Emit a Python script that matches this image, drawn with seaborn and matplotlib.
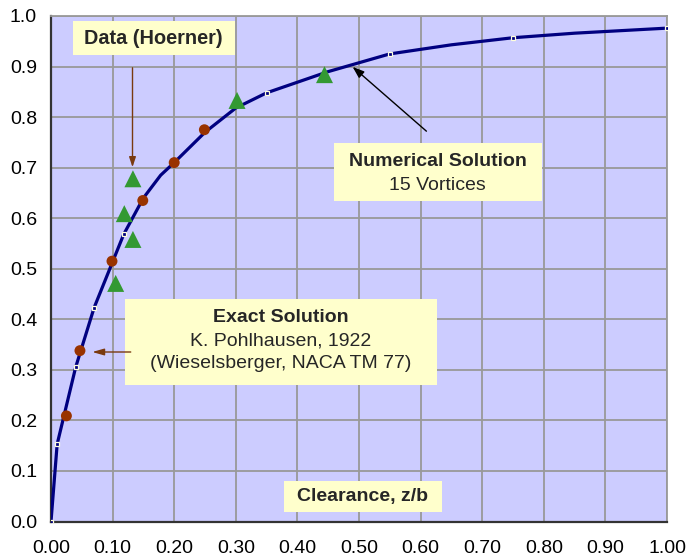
import matplotlib
matplotlib.use("Agg")
import matplotlib.pyplot as plt
import seaborn as sns
import numpy as np

# Numerical solution (15 vortices) curve
curve_x = [0.0, 0.01, 0.04, 0.07, 0.118, 0.15, 0.178, 0.2, 0.25, 0.3, 0.35, 0.45, 0.55, 0.65, 0.75, 0.85, 1.0]
curve_y = [0.0, 0.153, 0.305, 0.423, 0.568, 0.64, 0.685, 0.71, 0.77, 0.818, 0.848, 0.89, 0.925, 0.943, 0.957, 0.966, 0.976]
curve_marked = [0, 1, 2, 3, 4, 10, 12, 14, 16]

# Exact solution (Pohlhausen)
exact_x = [0.025, 0.047, 0.099, 0.149, 0.2, 0.249]
exact_y = [0.209, 0.338, 0.515, 0.635, 0.710, 0.775]

# Data (Hoerner)
data_x = [0.105, 0.119, 0.133, 0.133, 0.302, 0.444]
data_y = [0.471, 0.609, 0.558, 0.678, 0.833, 0.884]

x_ticks = [0.0, 0.1, 0.2, 0.3, 0.4, 0.5, 0.6, 0.7, 0.8, 0.9, 1.0]
x_labels = ["0.00", "0.10", "0.20", "0.30", "0.40", "0.50", "0.60", "0.70", "0.80", "0.90", "1.00"]
y_ticks = [0.0, 0.1, 0.2, 0.3, 0.4, 0.5, 0.6, 0.7, 0.8, 0.9, 1.0]
y_labels = ["0.0", "0.1", "0.2", "0.3", "0.4", "0.5", "0.6", "0.7", "0.8", "0.9", "1.0"]

sns.set_style("white")
plt.rcParams['font.family'] = ['Liberation Sans', 'DejaVu Sans']

fig = plt.figure(figsize=(6.94, 5.58), dpi=100)
ax = fig.add_axes([51 / 694, 36.5 / 558, 616 / 694, 505.5 / 558])
ax.set_facecolor("#CCCCFF")

ax.set_xlim(0, 1.0)
ax.set_ylim(0, 1.0)
ax.set_xticks(x_ticks)
ax.set_xticklabels(x_labels)
ax.set_yticks(y_ticks)
ax.set_yticklabels(y_labels)
ax.tick_params(axis="both", length=0, labelsize=14, colors="black")
ax.tick_params(axis="x", pad=13)
ax.tick_params(axis="y", pad=10)
ax.grid(True, color="#999999", lw=1.3)
ax.set_axisbelow(True)

for s in ["top", "right"]:
    ax.spines[s].set_color("#999999")
    ax.spines[s].set_linewidth(1.3)
for s in ["left", "bottom"]:
    ax.spines[s].set_color("#333333")
    ax.spines[s].set_linewidth(1.6)

sns.lineplot(x=curve_x, y=curve_y, sort=False, estimator=None, ax=ax,
             color="#000080", lw=2.3, marker="s", markevery=curve_marked,
             ms=3.5, mfc="#000080", mec="#FFFFDD", mew=0.9, zorder=3)

sns.scatterplot(x=exact_x, y=exact_y, ax=ax, marker="o", s=62,
                color="#993300", edgecolor="none", zorder=4)
sns.scatterplot(x=data_x, y=data_y, ax=ax, marker="^", s=150,
                color="#339933", edgecolor="none", zorder=4)


def px2data(px, py):
    return ((px - 50.5) / 616.0, (521.5 - py) / 505.5)

# Data (Hoerner) label
ax.add_patch(plt.Rectangle(px2data(72, 55), 162 / 616, 34 / 505.5,
                           fc="#FFFFCC", ec="none", zorder=5))
bx, by = px2data(153, 39)
ax.text(bx, by, "Data (Hoerner)", ha="center", va="center", fontsize=14.3,
        fontweight="bold", zorder=6)
ax.annotate("", xy=px2data(132, 170), xytext=px2data(132, 65),
            arrowprops=dict(arrowstyle="-|>,head_length=0.6,head_width=0.2", color="#7A3A10", lw=1.0),
            zorder=6)

# Numerical solution label
ax.add_patch(plt.Rectangle(px2data(333, 201), 208 / 616, 58 / 505.5,
                           fc="#FFFFCC", ec="none", zorder=5))
tx, ty = px2data(437, 161)
ax.text(tx, ty, "Numerical Solution", ha="center", va="center", fontsize=14,
        fontweight="bold", zorder=6)
tx, ty = px2data(437, 185)
ax.text(tx, ty, "15 Vortices", ha="center", va="center", fontsize=14, zorder=6)
ax.annotate("", xy=px2data(350, 65), xytext=px2data(428, 133),
            arrowprops=dict(arrowstyle="-|>,head_length=0.7,head_width=0.25", color="black", lw=1.0),
            zorder=6)

# Exact solution label
ax.add_patch(plt.Rectangle(px2data(124, 385), 313 / 616, 86 / 505.5,
                           fc="#FFFFCC", ec="none", zorder=5))
tx, ty = px2data(280, 318)
ax.text(tx, ty, "Exact Solution", ha="center", va="center", fontsize=14,
        fontweight="bold", zorder=6)
tx, ty = px2data(280, 341)
ax.text(tx, ty, "K. Pohlhausen, 1922", ha="center", va="center", fontsize=14, zorder=6)
tx, ty = px2data(280, 363)
ax.text(tx, ty, "(Wieselsberger, NACA TM 77)", ha="center", va="center", fontsize=14, zorder=6)
ax.annotate("", xy=px2data(89, 352), xytext=px2data(133, 352),
            arrowprops=dict(arrowstyle="-|>,head_length=0.7,head_width=0.2", color="#7A3A10", lw=1.0),
            zorder=6)

# Axis title box
ax.add_patch(plt.Rectangle(px2data(283, 512), 158 / 616, 31 / 505.5,
                           fc="#FFFFCC", ec="none", zorder=5))
tx, ty = px2data(362, 497)
ax.text(tx, ty, "Clearance, z/b", ha="center", va="center", fontsize=14,
        fontweight="bold", zorder=6)

fig.savefig("out.png", dpi=100, facecolor="white")
